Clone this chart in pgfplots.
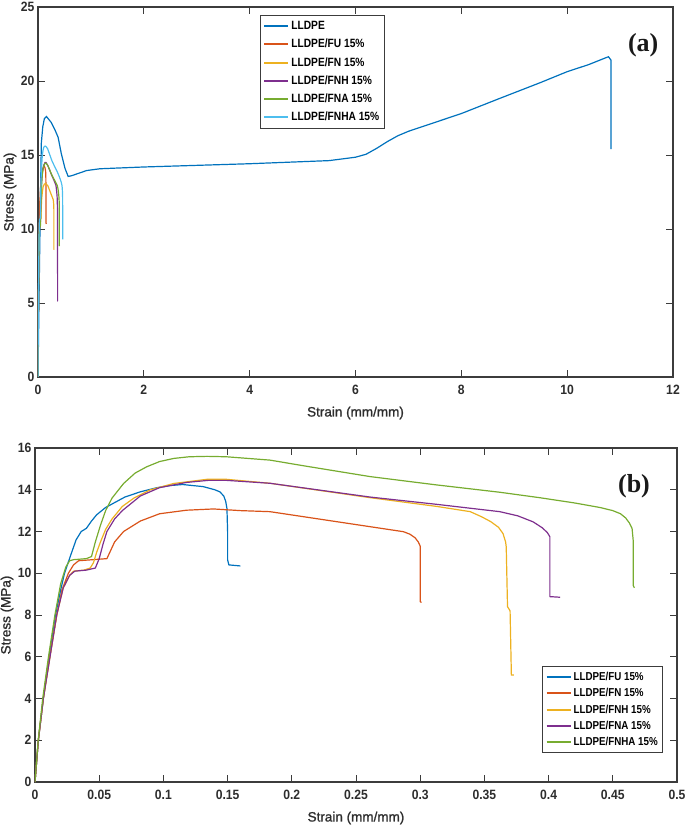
\documentclass[border=0pt]{standalone}
\usepackage{fontspec}
\setmainfont{Liberation Sans}
\newfontfamily\tickfont{Liberation Sans}[FakeStretch=0.9]
\newfontfamily\legfont{Liberation Sans}[FakeStretch=0.85]
\newfontfamily\labfont{Liberation Sans}[FakeBold=1.2]
\newfontfamily\panelfont{Liberation Serif}
\usepackage{pgfplots}
\pgfplotsset{compat=1.18}
\usepackage{pgfplotstable}

\definecolor{axgray}{RGB}{60,60,60}
\definecolor{txtgray}{RGB}{45,45,45}
\definecolor{mblue}{RGB}{0,114,189}
\definecolor{mred}{RGB}{217,83,25}
\definecolor{myellow}{RGB}{237,177,32}
\definecolor{mpurple}{RGB}{126,47,142}
\definecolor{mgreen}{RGB}{119,172,48}
\definecolor{mcyan}{RGB}{77,190,238}

% LLDPE, only in (a)
\pgfplotstableread{
x y
0 0
0.03 8
0.05 13
0.063 15.8
0.09 16.9
0.12 17.45
0.16 17.6
0.25 17.2
0.32 16.7
0.38 16.2
0.44 15.1
0.51 14.1
0.57 13.55
0.635 13.6
0.92 13.95
1.17 14.07
2 14.19
3 14.3
4 14.41
5 14.55
5.5 14.62
6 14.85
6.2 15.05
6.4 15.45
6.6 15.9
6.8 16.3
7 16.6
7.5 17.2
8 17.8
8.73 18.83
9.5 19.9
10 20.63
10.4 21.1
10.78 21.64
10.83 21.4
10.83 15.4
}\lldpe

\pgfplotstableread{
x y
0 0
0.0026 2
0.0065 4
0.0110 6
0.0160 8
0.0200 9.2
0.0230 10.0
0.0280 10.9
0.0320 11.6
0.0360 12.0
0.0400 12.15
0.0440 12.5
0.0480 12.8
0.0550 13.15
0.0610 13.35
0.0700 13.65
0.0820 13.9
0.0950 14.1
0.1050 14.2
0.1150 14.25
0.1310 14.15
0.1400 14.0
0.1440 13.9
0.1470 13.7
0.1485 13.45
0.1495 13.1
0.1500 12.0
0.1500 10.65
0.1510 10.4
0.1600 10.35
}\fu

\pgfplotstableread{
x y
0 0
0.0026 2
0.0065 4
0.0115 6
0.0170 8
0.0210 9.2
0.0260 10.0
0.0300 10.4
0.0340 10.6
0.0450 10.65
0.0560 10.7
0.0590 11.1
0.0620 11.5
0.0690 12.0
0.0820 12.5
0.0970 12.85
0.1180 13.02
0.1390 13.08
0.1600 13.0
0.1830 12.95
0.2350 12.47
0.2870 11.99
0.2920 11.87
0.2960 11.7
0.2985 11.5
0.3000 11.3
0.3000 8.64
0.3010 8.6
}\fn

\pgfplotstableread{
x y
0 0
0.0026 2
0.0065 4
0.0117 6
0.0169 8
0.0220 9.3
0.0270 9.9
0.0300 10.1
0.0380 10.15
0.0430 10.25
0.0455 10.5
0.0480 11.0
0.0510 11.5
0.0550 12.1
0.0600 12.6
0.0680 13.2
0.0770 13.6
0.0900 14.0
0.1080 14.3
0.1340 14.5
0.1490 14.5
0.1830 14.31
0.2610 13.62
0.3130 13.2
0.3390 12.95
0.3480 12.7
0.3550 12.47
0.3610 12.2
0.3645 11.9
0.3665 11.5
0.3670 11.27
0.3680 8.4
0.3700 8.2
0.3710 5.13
0.3730 5.13
}\fnh

\pgfplotstableread{
x y
0 0
0.0026 2
0.0065 4
0.0117 6
0.0169 8
0.0220 9.3
0.0270 9.9
0.0310 10.1
0.0400 10.15
0.0470 10.25
0.0500 10.7
0.0530 11.4
0.0560 12.0
0.0620 12.6
0.0680 13.0
0.0820 13.7
0.0970 14.1
0.1180 14.35
0.1350 14.45
0.1490 14.45
0.1830 14.31
0.2610 13.65
0.3130 13.3
0.3620 12.95
0.3760 12.75
0.3880 12.46
0.3950 12.18
0.3990 11.95
0.4010 11.75
0.4010 8.88
0.4090 8.85
}\fna

\pgfplotstableread{
x y
0 0
0.0025 2
0.0060 4
0.0105 6
0.0155 8
0.0200 9.5
0.0240 10.3
0.0270 10.6
0.0300 10.65
0.0400 10.7
0.0440 10.8
0.0470 11.5
0.0510 12.3
0.0550 13.0
0.0600 13.6
0.0690 14.3
0.0780 14.8
0.0870 15.1
0.0970 15.35
0.1080 15.5
0.1200 15.58
0.1340 15.6
0.1490 15.58
0.1830 15.42
0.2090 15.15
0.2610 14.63
0.3130 14.23
0.3620 13.88
0.3930 13.62
0.4200 13.37
0.4400 13.15
0.4500 13.0
0.4560 12.85
0.4600 12.65
0.4630 12.4
0.4650 12.15
0.4660 11.5
0.4660 9.4
0.4668 9.3
}\fnha

\pgfplotsset{
  stress/.style={
    scale only axis,
    axis line style={draw=axgray, line width=1.1pt},
    tick style={draw=axgray, line width=0.9pt},
    major tick length=7pt,
    tick align=inside,
    /pgf/number format/assume math mode=true,
    ticklabel style={font=\tickfont\bfseries\fontsize{13.5}{14}\selectfont, text=txtgray},
    xticklabel style={yshift=-5pt},
    scaled ticks=false,
    xlabel={Strain (mm/mm)},
    ylabel={Stress (MPa)},
    every axis x label/.style={at={(axis description cs:0.5,0)}, anchor=center, yshift=-36pt,
      font=\labfont\fontsize{13.5}{15}\selectfont, text=txtgray},
    every axis y label/.style={at={(axis description cs:0,0.5)}, xshift=-28pt, rotate=90, anchor=center,
      font=\labfont\fontsize{13.5}{15}\selectfont, text=txtgray},
    legend cell align=left,
    legend style={draw=axgray, line width=0.8pt, text=black,
      font=\legfont\bfseries\fontsize{12}{12.5}\selectfont,
      nodes={inner xsep=2pt, inner ysep=4pt}},
    legend image code/.code={\draw[#1, line width=2pt] (0pt,0pt) -- (24pt,0pt);},
    every axis plot/.append style={line width=1.2pt},
  }
}

\begin{document}
\begin{tikzpicture}
\useasboundingbox (0pt,0pt) rectangle (685pt,825pt);

% (a)
\begin{axis}[stress,
  at={(38pt,448pt)}, anchor=south west,
  width=635pt, height=370pt,
  xmin=0, xmax=12, ymin=0, ymax=25,
  xtick={0,2,...,12}, ytick={0,5,...,25},
  legend style={at={(0.3496,0.978)}, anchor=north west},
]
\addplot[mblue] table {\lldpe};
\addplot[mred] table {\fu};
\addplot[myellow] table {\fn};
\addplot[mpurple] table {\fnh};
\addplot[mgreen] table {\fna};
\addplot[mcyan] table {\fnha};
\legend{LLDPE, LLDPE/FU 15\%, LLDPE/FN 15\%, LLDPE/FNH 15\%, LLDPE/FNA 15\%, LLDPE/FNHA 15\%}
\node[font=\panelfont\bfseries\fontsize{26}{26}\selectfont, text=black!90] at (rel axis cs:0.953,0.897) {(a)};
\end{axis}

% (b)
\begin{axis}[stress,
  at={(35pt,43pt)}, anchor=south west,
  width=642pt, height=334pt,
  xmin=0, xmax=0.5, ymin=0, ymax=16,
  xtick={0,0.05,0.1,0.15,0.2,0.25,0.3,0.35,0.4,0.45,0.5},
  ytick={0,2,...,16},
  xticklabel style={/pgf/number format/fixed, /pgf/number format/precision=2},
  legend style={at={(0.79,0.347)}, anchor=north west,
    font=\legfont\bfseries\fontsize{11.5}{12}\selectfont,
    nodes={inner xsep=2pt, inner ysep=3.3pt}},
]
\addplot[mblue] table {\fu};
\addplot[mred] table {\fn};
\addplot[myellow] table {\fnh};
\addplot[mpurple] table {\fna};
\addplot[mgreen] table {\fnha};
\legend{LLDPE/FU 15\%, LLDPE/FN 15\%, LLDPE/FNH 15\%, LLDPE/FNA 15\%, LLDPE/FNHA 15\%}
\node[font=\panelfont\bfseries\fontsize{26}{26}\selectfont, text=black!90] at (rel axis cs:0.933,0.886) {(b)};
\end{axis}
\end{tikzpicture}
\end{document}
